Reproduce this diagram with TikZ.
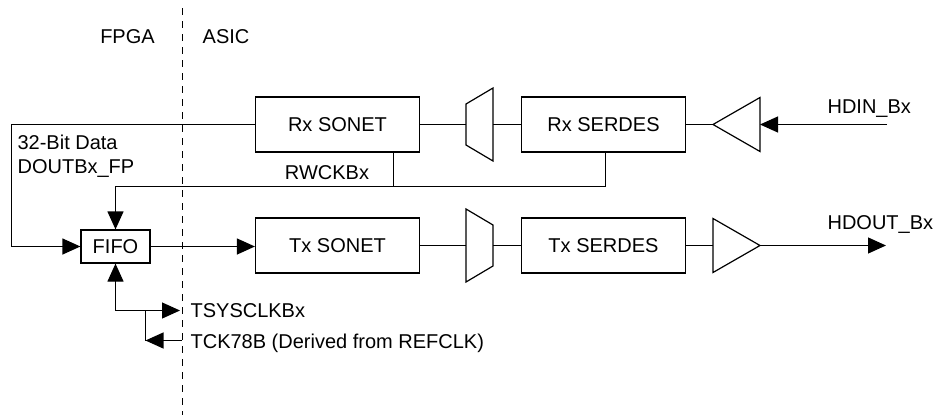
\documentclass[tikz,border=0pt]{standalone}
\usepackage{fontspec}
\setmainfont{Liberation Sans}
\usetikzlibrary{arrows.meta}
\begin{document}
\begin{tikzpicture}[x=1pt,y=-1pt, line width=1.2pt,
  font=\fontsize{20}{24}\selectfont,
  blk/.style={draw, minimum width=164pt, minimum height=55pt, inner sep=0pt},
  ghost/.style={inner sep=0pt, outer sep=0pt},
  lbl/.style={inner sep=0pt, anchor=base west},
  arr/.style={-{Triangle[length=18pt,width=16pt]}},
  arrboth/.style={{Triangle[length=18pt,width=16pt]}-{Triangle[length=18pt,width=16pt]}},
]
\useasboundingbox (0,0) rectangle (938,415);

% divider
\draw[line width=1pt, dash pattern=on 7pt off 6pt] (182.5,8) -- (182.5,415);
\node[inner sep=0pt, anchor=base] (fpga) at (127.5,43) {FPGA};
\node[inner sep=0pt, anchor=base] (asic) at (226,43) {ASIC};

% Rx row
\node[blk] (rxsonet) at (337.5,124.5) {Rx SONET};
\node[blk] (rxserdes) at (603.5,124.5) {Rx SERDES};
\node[ghost, minimum width=27pt, minimum height=73pt] (rxmux) at (479.5,124.5) {};
\draw (rxmux.north east) -- (rxmux.south east) -- ([yshift=16pt]rxmux.south west)
      -- ([yshift=-16pt]rxmux.north west) -- cycle;
\node[ghost, minimum width=47pt, minimum height=54pt] (rxbuf) at (736.5,124.5) {};
\draw (rxbuf.west) -- (rxbuf.north east) -- (rxbuf.south east) -- cycle;
\coordinate (hdin) at (887,124.5);
\node[lbl] (hdinlbl) at (827,113) {HDIN\_Bx};

\draw (rxsonet.east) -- (rxmux.west);
\draw (rxmux.east) -- (rxserdes.west);
\draw (rxserdes.east) -- (rxbuf.west);
\draw[arr] (hdin) -- (rxbuf.east);

% Tx row
\node[blk] (txsonet) at (337.5,245.5) {Tx SONET};
\node[blk] (txserdes) at (603.5,245.5) {Tx SERDES};
\node[ghost, minimum width=27pt, minimum height=73pt] (txmux) at (479.5,245.5) {};
\draw (txmux.north west) -- (txmux.south west) -- ([yshift=16pt]txmux.south east)
      -- ([yshift=-16pt]txmux.north east) -- cycle;
\node[ghost, minimum width=47pt, minimum height=54pt] (txbuf) at (736.5,245.5) {};
\draw (txbuf.north west) -- (txbuf.east) -- (txbuf.south west) -- cycle;
\coordinate (hdout) at (886,245.5);
\node[lbl] (hdoutlbl) at (827,229) {HDOUT\_Bx};

\draw (txsonet.east) -- (txmux.west);
\draw (txmux.east) -- (txserdes.west);
\draw (txserdes.east) -- (txbuf.west);
\draw[arr] (txbuf.east) -- (hdout);

% FIFO
\node[draw, minimum width=69pt, minimum height=33pt, inner sep=0pt] (fifo) at (115.5,246.5) {FIFO};
\draw[arr] (fifo.east) -- (fifo.east -| txsonet.west);

% data path
\coordinate (dl) at (11.5,186);
\node[lbl] (datalbl) at (17,149) {32-Bit Data};
\node[lbl] (doutlbl) at (17,173) {DOUTBx\_FP};
\draw[arr] (rxsonet.west) -| (dl) |- (fifo.west);

% RWCKBx clock
\coordinate (rwj) at (393.5,186.5);
\coordinate (rwr) at (605.5,186.5);
\draw (rxsonet.south -| rwj) -- (rwj);
\draw[arr] (rxserdes.south -| rwr) -- (rwr) -| (fifo.north);
\node[inner sep=0pt, anchor=base] (rwlbl) at (327,179) {RWCKBx};

% transmit clocks
\coordinate (ts) at (180,310.5);
\coordinate (tj) at (145.5,310.5);
\coordinate (tk) at (182,340.5);
\draw[arrboth] (fifo.south) |- (ts);
\draw[arr] (tk) -- (tk -| tj);
\draw (tk -| tj) -- (tj);
\node[lbl] (tslbl) at (190,317) {TSYSCLKBx};
\node[lbl] (tcklbl) at (190,348) {TCK78B (Derived from REFCLK)};
\end{tikzpicture}
\end{document}
